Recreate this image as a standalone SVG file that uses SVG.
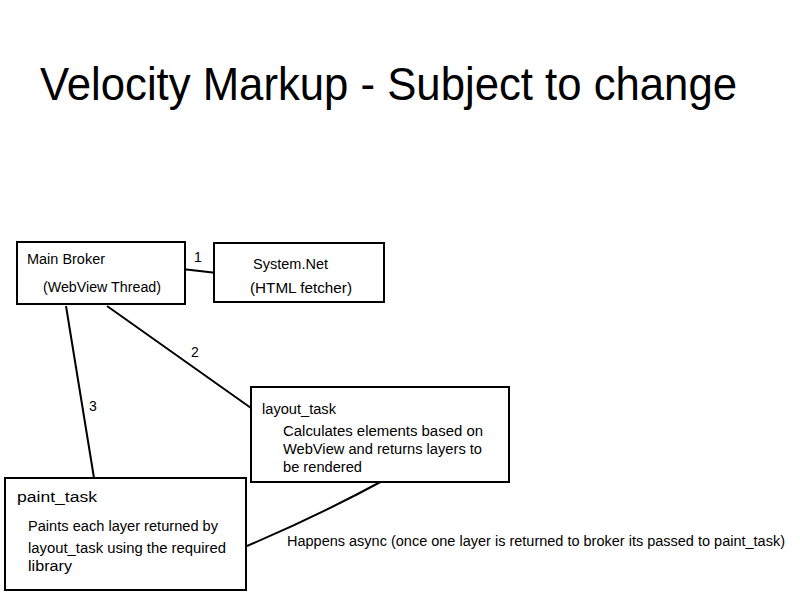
<svg xmlns="http://www.w3.org/2000/svg" width="800" height="600" viewBox="0 0 800 600">
<style>
.box{fill:#fff;stroke:#000;stroke-width:2}
.ln{fill:none;stroke:#000;stroke-width:2}
text{font-family:"Liberation Sans",Arial,sans-serif;font-size:14px;fill:#000}
.title{font-size:46px}
</style>
<rect width="800" height="600" fill="#fff"/>
<text class="title" x="40" y="100" textLength="697" lengthAdjust="spacingAndGlyphs">Velocity Markup - Subject to change</text>
<g id="connectors">
<line class="ln" x1="182" y1="269" x2="217" y2="273"/>
<line class="ln" x1="107" y1="306" x2="251" y2="408"/>
<line class="ln" x1="66" y1="306" x2="94" y2="478"/>
<path class="ln" d="M386,479 Q320,515 247,546"/>
<text x="194" y="262">1</text>
<text x="191" y="357">2</text>
<text x="89" y="411">3</text>
<text x="287" y="546" textLength="498" lengthAdjust="spacingAndGlyphs">Happens async (once one layer is returned to broker its passed to paint_task)</text>
</g>
<g id="main-broker">
<rect class="box" x="17" y="242" width="168" height="62"/>
<text x="27" y="264" textLength="78" lengthAdjust="spacingAndGlyphs">Main Broker</text>
<text x="43" y="292" textLength="118" lengthAdjust="spacingAndGlyphs">(WebView Thread)</text>
</g>
<g id="system-net">
<rect class="box" x="214" y="243" width="170" height="59"/>
<text x="253" y="269" textLength="75" lengthAdjust="spacingAndGlyphs">System.Net</text>
<text x="250" y="293" textLength="102" lengthAdjust="spacingAndGlyphs">(HTML fetcher)</text>
</g>
<g id="layout-task">
<rect class="box" x="251" y="387" width="258" height="95"/>
<text x="262" y="414" textLength="74" lengthAdjust="spacingAndGlyphs">layout_task</text>
<text x="283" y="436" textLength="200" lengthAdjust="spacingAndGlyphs">Calculates elements based on</text>
<text x="283" y="454" textLength="199" lengthAdjust="spacingAndGlyphs">WebView and returns layers to</text>
<text x="283" y="472" textLength="79" lengthAdjust="spacingAndGlyphs">be rendered</text>
</g>
<g id="paint-task">
<rect class="box" x="5" y="478" width="241" height="112"/>
<text x="17" y="502" textLength="80" lengthAdjust="spacingAndGlyphs">paint_task</text>
<text x="28" y="531" textLength="190" lengthAdjust="spacingAndGlyphs">Paints each layer returned by</text>
<text x="28" y="553" textLength="198" lengthAdjust="spacingAndGlyphs">layout_task using the required</text>
<text x="28" y="571" textLength="44" lengthAdjust="spacingAndGlyphs">library</text>
</g>
</svg>
